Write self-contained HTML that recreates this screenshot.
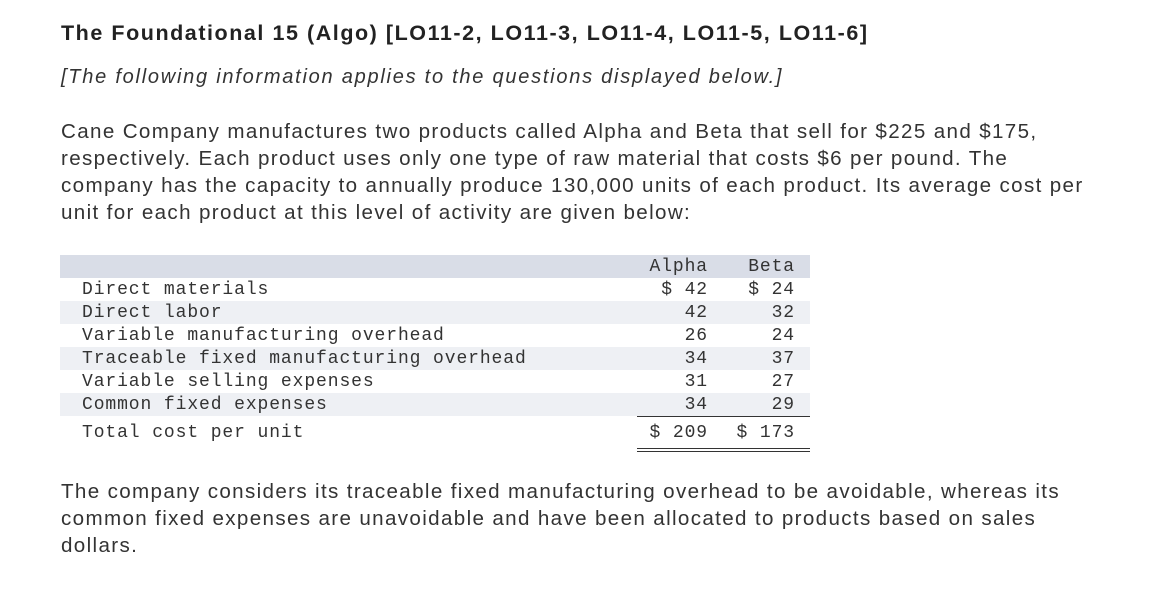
<!DOCTYPE html>
<html><head><meta charset="utf-8"><style>
body{margin:0;width:1154px;height:590px;background:#fff;font-family:"Liberation Sans",sans-serif;color:#222;position:relative;overflow:hidden}
.t{position:absolute;left:61px;margin:0;white-space:nowrap}
h1{font-size:21.5px;font-weight:bold;top:21px;letter-spacing:1.55px}
.it{font-style:italic;font-size:20px;top:66px;color:#333;letter-spacing:1.75px}
.p{font-size:20.6px;line-height:27px;color:#333;letter-spacing:1.35px}
table{position:absolute;left:60px;top:255px;border-collapse:collapse;font-family:"Liberation Mono",monospace;font-size:18px;letter-spacing:0.9px;color:#333}
td{height:23px;padding:0;white-space:pre}
td.l{width:555px;padding-left:22px}
td.a{width:71px;text-align:right}
td.b{width:87px;text-align:right}
td.s{width:15px}
tr.h td{background:#d9dde7}
tr.z td{background:#eef0f4}
</style></head><body>
<h1 class="t">The Foundational 15 (Algo) [LO11-2, LO11-3, LO11-4, LO11-5, LO11-6]</h1>
<p class="t it">[The following information applies to the questions displayed below.]</p>
<p class="t p" style="top:118px">Cane Company manufactures two products called Alpha and Beta that sell for $225 and $175,<br>respectively. Each product uses only one type of raw material that costs $6 per pound. The<br>company has the capacity to annually produce 130,000 units of each product. Its average cost per<br>unit for each product at this level of activity are given below:</p>
<table>
<tr class="h"><td class="l"></td><td class="a">Alpha</td><td class="b">Beta</td><td class="s"></td></tr>
<tr><td class="l">Direct materials</td><td class="a">$ 42</td><td class="b">$ 24</td><td class="s"></td></tr>
<tr class="z"><td class="l">Direct labor</td><td class="a">42</td><td class="b">32</td><td class="s"></td></tr>
<tr><td class="l">Variable manufacturing overhead</td><td class="a">26</td><td class="b">24</td><td class="s"></td></tr>
<tr class="z"><td class="l">Traceable fixed manufacturing overhead</td><td class="a">34</td><td class="b">37</td><td class="s"></td></tr>
<tr><td class="l">Variable selling expenses</td><td class="a">31</td><td class="b">27</td><td class="s"></td></tr>
<tr class="z"><td class="l">Common fixed expenses</td><td class="a">34</td><td class="b">29</td><td class="s"></td></tr>
<tr><td class="l" style="height:34px">Total cost per unit</td><td class="a">$ 209</td><td class="b">$ 173</td><td class="s"></td></tr>
</table>
<div style="position:absolute;left:637px;top:416px;width:173px;height:1px;background:#333"></div>
<div style="position:absolute;left:637px;top:448px;width:173px;height:1px;background:#333"></div>
<div style="position:absolute;left:637px;top:451px;width:173px;height:1px;background:#333"></div>
<p class="t p" style="top:478px">The company considers its traceable fixed manufacturing overhead to be avoidable, whereas its<br>common fixed expenses are unavoidable and have been allocated to products based on sales<br>dollars.</p>
</body></html>
